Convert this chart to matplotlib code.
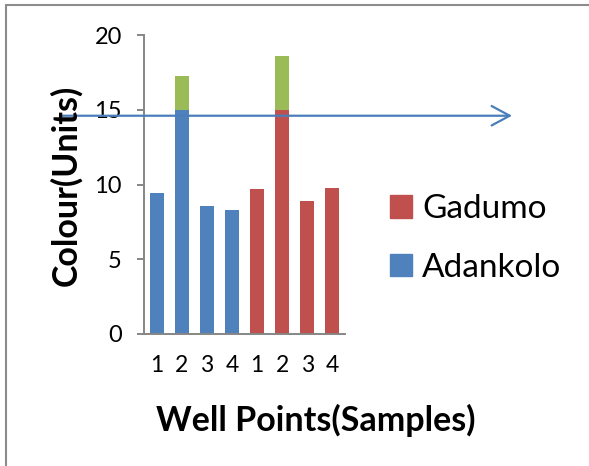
import numpy as np
import matplotlib
matplotlib.use("Agg")
import matplotlib.pyplot as plt
from matplotlib.patches import Rectangle, Patch

plt.rcParams['font.family'] = ['Lato', 'DejaVu Sans']

# data
samples = ['1', '2', '3', '4', '1', '2', '3', '4']
adankolo = [9.4, 17.26, 8.57, 8.28]
gadumo = [9.73, 18.6, 8.89, 9.78]
limit = 15.0          # part of a bar above this is shown in green
marker_level = 14.6   # level of the arrow line

blue = '#4F81BD'
red = '#C0504D'
green = '#9BBB59'
grey = '#868686'

totals = np.array(adankolo + gadumo)
base_colors = [blue] * len(adankolo) + [red] * len(gadumo)
x = np.arange(len(totals))

fig = plt.figure(figsize=(5.89, 4.66), dpi=100)
ax = fig.add_axes([144 / 589, 1 - 334 / 466, 201 / 589, 299 / 466])

lower = np.minimum(totals, limit)
upper = np.maximum(totals - limit, 0)
ax.bar(x, lower, width=0.56, color=base_colors)
ax.bar(x, upper, width=0.56, bottom=lower, color=green)

ax.set_xlim(-0.5, len(totals) - 0.5)
ax.set_ylim(0, 20)
ax.set_yticks([0, 5, 10, 15, 20])
ax.set_xticks(x)
ax.set_xticklabels(samples)

for side in ['top', 'right']:
    ax.spines[side].set_visible(False)
for side in ['left', 'bottom']:
    ax.spines[side].set_color(grey)
    ax.spines[side].set_linewidth(1.4)
ax.tick_params(axis='y', length=5, width=1.4, color=grey, pad=11, labelsize=17)
ax.tick_params(axis='x', length=0, pad=15, labelsize=16.5)

# arrow line crossing the chart
ax.annotate('', xy=(1.831, marker_level), xytext=(-0.418, marker_level),
            xycoords=('axes fraction', 'data'), textcoords=('axes fraction', 'data'),
            arrowprops=dict(arrowstyle='->,head_length=1.3,head_width=0.7',
                            color='#4A7EBB', lw=1.6, shrinkA=0, shrinkB=0,
                            mutation_scale=10),
            annotation_clip=False)

fig.text(66 / 589, 1 - 185 / 466, 'Colour(Units)', rotation=90, fontsize=24.5,
         fontweight='bold', ha='center', va='center')
fig.text(316 / 589, 1 - 420 / 466, 'Well Points(Samples)', fontsize=24.5,
         fontweight='bold', ha='center', va='center')

handles = [Patch(color=red, label='Gadumo'), Patch(color=blue, label='Adankolo')]
fig.legend(handles=handles, loc='center left', bbox_to_anchor=(390 / 589, 1 - 238.5 / 466),
           frameon=False, fontsize=24, handlelength=0.66, handleheight=0.66,
           handletextpad=0.3, labelspacing=0.85, borderpad=0, borderaxespad=0)

# outer frame (only left and top edges show)
fig.patches.append(Rectangle((5.5 / 589, -0.1), 2, 1.1 - 5.5 / 466, fill=False,
                             edgecolor='#8C8C8C', lw=1.5, transform=fig.transFigure))

fig.savefig('out.png', dpi=100)
